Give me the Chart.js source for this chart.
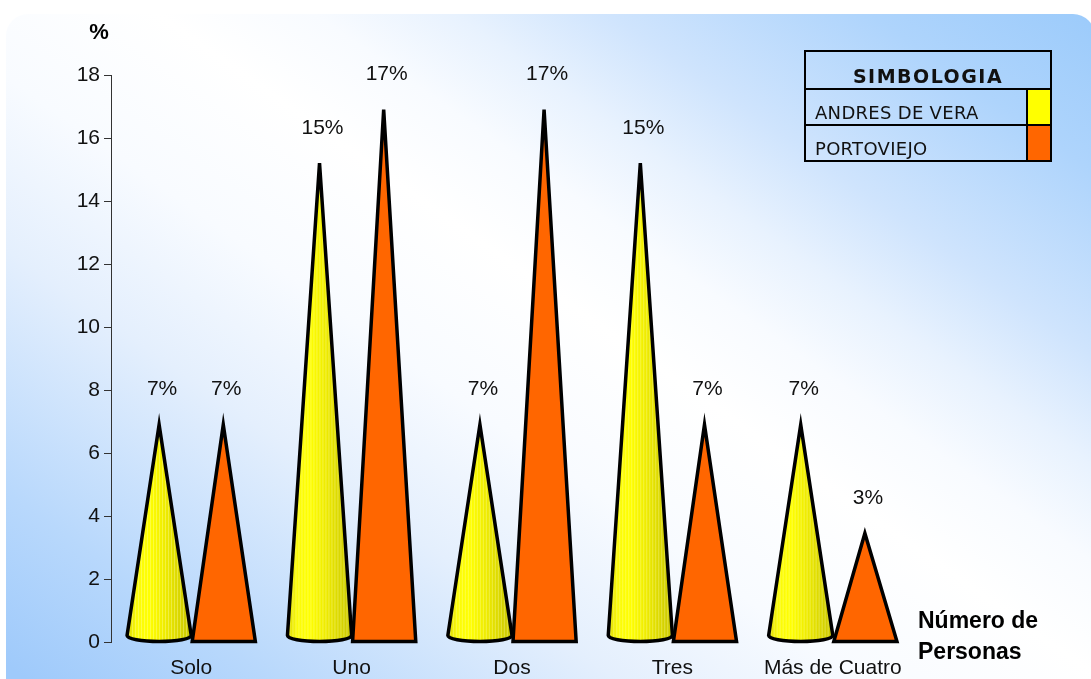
<!DOCTYPE html>
<html>
<head>
<meta charset="utf-8">
<script src="https://cdn.jsdelivr.net/npm/chart.js@4.4.0/dist/chart.umd.min.js"></script>
<style>
  html, body { margin: 0; padding: 0; background: #fff; }
  #wrap { position: relative; width: 1091px; height: 679px; overflow: hidden; }
  #chart { position: absolute; left: 0; top: 0; }
  #simbologia {
    position: absolute; left: 804px; top: 50px; width: 248px;
    border-collapse: collapse; font-family: "DejaVu Sans", sans-serif; color: #111;
  }
  #simbologia td { border: 2px solid #000; padding: 0; }
  #simbologia .title {
    height: 35px; text-align: center; vertical-align: bottom; padding-bottom: 1px;
    font-weight: bold; font-size: 19px; letter-spacing: 1.5px;
  }
  #simbologia .name { height: 33px; vertical-align: bottom; padding: 0 0 1px 9px; font-size: 18px; letter-spacing: 0.3px; }
  #simbologia .swatch { width: 22px; }
</style>
</head>
<body>
<div id="wrap">
  <canvas id="chart" width="1091" height="679"></canvas>
  <table id="simbologia">
    <tr><td class="title" colspan="2">SIMBOLOGIA</td></tr>
    <tr><td class="name">ANDRES DE VERA</td><td class="swatch" style="background:#ffff00"></td></tr>
    <tr><td class="name">PORTOVIEJO</td><td class="swatch" style="background:#ff6600"></td></tr>
  </table>
</div>
<script>
const categories = ['Solo', 'Uno', 'Dos', 'Tres', 'Más de Cuatro'];
const andresDeVera = [6.9, 15.2, 6.9, 15.2, 6.9];
const portoviejo = [6.9, 16.9, 16.9, 6.9, 3.45];
const yTicks = [0, 2, 4, 6, 8, 10, 12, 14, 16, 18];

const FONT = '"Liberation Sans", Arial, sans-serif';

// blue / white / blue panel behind everything (diagonal band of white)
const panelBackground = {
  id: 'panelBackground',
  beforeDraw(chart) {
    const ctx = chart.ctx;
    const w = chart.width, h = chart.height;
    const g = ctx.createLinearGradient(-311, 441, 357, -507);
    g.addColorStop(0, '#9fcafb');
    g.addColorStop(0.121, '#b8d8fc');
    g.addColorStop(0.293, '#e4effd');
    g.addColorStop(0.414, '#f8fbff');
    g.addColorStop(0.534, '#ffffff');
    g.addColorStop(0.612, '#f8fbff');
    g.addColorStop(0.681, '#e8f2fe');
    g.addColorStop(0.759, '#cfe4fd');
    g.addColorStop(0.888, '#aed4fc');
    g.addColorStop(1, '#9ccbfb');
    ctx.save();
    ctx.fillStyle = '#fff';
    ctx.fillRect(0, 0, w, h);
    ctx.beginPath();
    ctx.roundRect(6, 14, w - 2, h + 20, [22, 22, 22, 22]);
    ctx.fillStyle = g;
    ctx.fill();
    ctx.restore();
  }
};

function conePath(ctx, el, ry) {
  const half = el.width / 2;
  const cy = el.base - ry;
  ctx.beginPath();
  ctx.moveTo(el.x - half, cy);
  ctx.lineTo(el.x, el.y);
  ctx.lineTo(el.x + half, cy);
  ctx.ellipse(el.x, cy, half, ry, 0, 0, Math.PI, false);
  ctx.closePath();
}

function drawYellowCone(ctx, el) {
  const half = el.width / 2;
  const left = el.x - half, right = el.x + half;
  conePath(ctx, el, 6);
  const g = ctx.createLinearGradient(left, 0, right, 0);
  g.addColorStop(0, '#dcd800');
  g.addColorStop(0.15, '#fbfb0a');
  g.addColorStop(0.35, '#ffff00');
  g.addColorStop(0.6, '#eeeb00');
  g.addColorStop(0.85, '#d6d300');
  g.addColorStop(1, '#c9c600');
  ctx.fillStyle = g;
  ctx.fill();

  // fine vertical streaks on the cone surface
  ctx.save();
  ctx.clip();
  ctx.strokeStyle = 'rgba(255,255,190,0.35)';
  ctx.lineWidth = 1;
  for (let sx = left + 2; sx < right; sx += 3) {
    ctx.beginPath();
    ctx.moveTo(sx + 0.5, el.y);
    ctx.lineTo(sx + 0.5, el.base);
    ctx.stroke();
  }
  ctx.restore();

  conePath(ctx, el, 6);
  ctx.lineWidth = 3.5;
  ctx.lineJoin = 'miter';
  ctx.strokeStyle = '#000';
  ctx.stroke();
}

function drawOrangeCone(ctx, el) {
  const half = el.width / 2;
  ctx.beginPath();
  ctx.moveTo(el.x - half + 1, el.base);
  ctx.lineTo(el.x, el.y);
  ctx.lineTo(el.x + half, el.base);
  ctx.closePath();
  ctx.fillStyle = '#ff6600';
  ctx.fill();
  ctx.lineWidth = 3.5;
  ctx.lineJoin = 'miter';
  ctx.strokeStyle = '#000';
  ctx.stroke();
}

const cones = {
  id: 'cones',
  afterDatasetsDraw(chart) {
    const ctx = chart.ctx;
    ctx.save();
    chart.data.datasets.forEach((ds, i) => {
      const meta = chart.getDatasetMeta(i);
      meta.data.forEach((el, j) => {
        if (i === 0) drawYellowCone(ctx, el);
        else drawOrangeCone(ctx, el);
        ctx.fillStyle = '#111';
        ctx.font = '21px ' + FONT;
        ctx.textAlign = 'center';
        ctx.textBaseline = 'middle';
        ctx.fillText(Math.round(ds.data[j]) + '%', el.x + 3, el.y - 35);
      });
    });

    // axis titles
    const area = chart.chartArea;
    ctx.fillStyle = '#000';
    ctx.font = 'bold 22px ' + FONT;
    ctx.textAlign = 'center';
    ctx.fillText('%', area.left - 12, 33);
    ctx.font = 'bold 23px ' + FONT;
    ctx.textAlign = 'left';
    ctx.fillText('Número de', area.right + 5, 622);
    ctx.fillText('Personas', area.right + 5, 653);
    ctx.restore();
  }
};

new Chart(document.getElementById('chart'), {
  type: 'bar',
  data: {
    labels: categories,
    datasets: [
      { label: 'ANDRES DE VERA', data: andresDeVera, backgroundColor: 'rgba(0,0,0,0)', borderWidth: 0 },
      { label: 'PORTOVIEJO', data: portoviejo, backgroundColor: 'rgba(0,0,0,0)', borderWidth: 0 }
    ]
  },
  options: {
    responsive: false,
    animation: false,
    categoryPercentage: 0.8,
    barPercentage: 1.0,
    layout: { padding: { left: 0, top: 75, right: 178, bottom: 0 } },
    plugins: {
      legend: { display: false },
      tooltip: { enabled: false }
    },
    scales: {
      x: {
        grid: { display: false },
        border: { display: false },
        ticks: { color: '#111', padding: 6, font: { size: 21, family: FONT } },
        afterFit: (scale) => { scale.height = 37; }
      },
      y: {
        min: yTicks[0],
        max: yTicks[yTicks.length - 1],
        afterBuildTicks: (scale) => { scale.ticks = yTicks.map(v => ({ value: v })); },
        grid: { display: true, drawOnChartArea: false, drawTicks: true, tickLength: 7, color: '#333', lineWidth: 1 },
        border: { display: true, color: '#333', width: 1 },
        ticks: { color: '#111', padding: 4, font: { size: 21, family: FONT } },
        afterFit: (scale) => { scale.width = 111; }
      }
    }
  },
  plugins: [panelBackground, cones]
});
</script>
</body>
</html>
